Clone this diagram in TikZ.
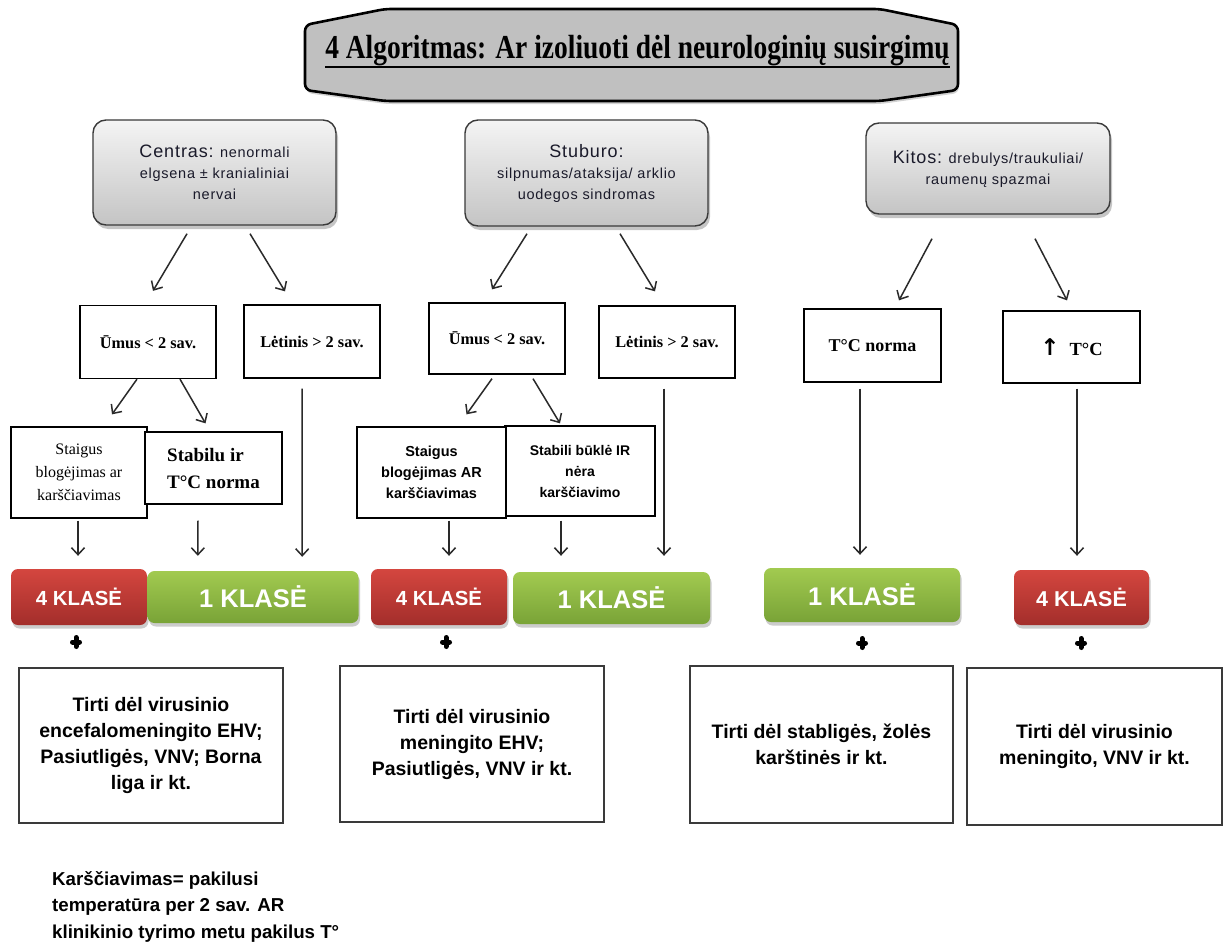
\documentclass[tikz,border=0pt]{standalone}
\usepackage{fontspec}
\setmainfont{Liberation Serif}
\setsansfont{Liberation Sans}
\newfontfamily\titlefont[FakeStretch=0.82]{Liberation Serif}
\newfontfamily\boxfont[LetterSpace=5]{Liberation Sans}
\newfontfamily\arrowfont{DejaVu Sans}
\usetikzlibrary{arrows.meta,shadows,calc}
\definecolor{titlegray}{HTML}{C0C0C0}
\definecolor{gtop}{HTML}{F4F4F4}
\definecolor{gbot}{HTML}{C4C4C4}
\definecolor{boxline}{HTML}{3A3A3A}
\definecolor{textdark}{HTML}{1A1A2A}
\definecolor{rtop}{HTML}{D4463F}
\definecolor{rbot}{HTML}{A32E2B}
\definecolor{gntop}{HTML}{A2CA50}
\definecolor{gnbot}{HTML}{79A337}
\definecolor{arrcol}{HTML}{2A2A2A}
\tikzset{
  gbox/.style={draw=boxline, line width=1.4pt, rounded corners=13pt, top color=gtop, bottom color=gbot,
    align=center, inner sep=0pt, text=textdark,
    drop shadow={shadow xshift=2pt, shadow yshift=-4pt, opacity=0.45},
    font=\boxfont\fontsize{14.5}{21}\selectfont},
  wbox/.style={draw=black, line width=1.3pt, fill=white, align=center, inner sep=0pt},
  lvltwo/.style={wbox, font=\bfseries\fontsize{16.3}{20}\selectfont},
  badge/.style={rounded corners=7pt, text=white, inner sep=0pt,
    drop shadow={shadow xshift=1.5pt, shadow yshift=-3.5pt, opacity=0.4}},
  redbadge/.style={badge, top color=rtop, bottom color=rbot, font=\sffamily\bfseries\fontsize{20.4}{20}\selectfont},
  greenbadge/.style={badge, top color=gntop, bottom color=gnbot, font=\sffamily\bfseries\fontsize{25.5}{25}\selectfont},
  rbox/.style={draw=boxline, line width=1.6pt, fill=white, align=center, inner sep=0pt,
    font=\sffamily\bfseries\fontsize{19.5}{26}\selectfont},
  arr/.style={draw=arrcol, line width=1.5pt, -{Straight Barb[length=7pt,width=13pt]}},
  plusmark/.style={line width=5pt, line cap=round, draw=black},
}
\begin{document}
\begin{tikzpicture}[x=1pt,y=-1pt]
\useasboundingbox (0,0) rectangle (1228,942);
\fill[white] (0,0) rectangle (1228,942);

% title
\draw[fill=titlegray, line width=2.6pt, rounded corners=6pt,
  drop shadow={shadow xshift=1pt, shadow yshift=-3pt, opacity=0.35}]
  (305,25) -- (385,9) -- (880,9) -- (958,25) -- (958,90) -- (880,101) -- (385,101) -- (305,90) -- cycle;
\node[inner sep=0pt, anchor=base, font=\titlefont\bfseries\fontsize{33.5}{34}\selectfont] (title) at (637.5,59)
  {4 Algoritmas: Ar izoliuoti dėl neurologinių susirgimų};
\draw[line width=2.2pt] ([yshift=-8pt]title.base west) -- ([yshift=-8pt]title.base east);

% top gray boxes
\node[gbox, minimum width=243pt, minimum height=105pt] (c1) at (214.5,172.5)
  {{\fontsize{18}{21}\selectfont Centras:} nenormali\\elgsena ± kranialiniai\\nervai};
\node[gbox, minimum width=243pt, minimum height=106pt] (s1) at (586.5,173)
  {{\fontsize{18}{21}\selectfont Stuburo:}\\silpnumas/ataksija/ arklio\\uodegos sindromas};
\node[gbox, minimum width=244pt, minimum height=91pt] (k1) at (988,168.5)
  {{\fontsize{18}{21}\selectfont Kitos:} drebulys/traukuliai/\\raumenų spazmai};

% level 2
\node[lvltwo, minimum width=136pt, minimum height=73pt] (u1) at (148,342) {Ūmus < 2 sav.};
\node[lvltwo, minimum width=136pt, minimum height=73pt] (l1) at (312,341.5) {Lėtinis > 2 sav.};
\node[lvltwo, minimum width=136pt, minimum height=71pt] (u2) at (497,338.5) {Ūmus < 2 sav.};
\node[lvltwo, minimum width=136pt, minimum height=72pt] (l2) at (667,342) {Lėtinis > 2 sav.};
\node[wbox, minimum width=137pt, minimum height=73pt, font=\bfseries\fontsize{18}{20}\selectfont] (t1) at (872.5,345.5) {T°C norma};
\node[wbox, minimum width=137pt, minimum height=72pt, font=\bfseries\fontsize{18.5}{20}\selectfont] (t2) at (1071.5,347)
  {{\arrowfont\bfseries\fontsize{23}{20}\selectfont ↑}\hspace{10pt}T°C};

% level 3
\node[wbox, minimum width=136pt, minimum height=91pt, font=\fontsize{16}{23}\selectfont] (st1) at (79,472.5)
  {Staigus\\blogėjimas ar\\karščiavimas};
\node[wbox, minimum width=137pt, minimum height=72pt, align=left, font=\bfseries\fontsize{19}{27}\selectfont] (sb1) at (213.5,468)
  {Stabilu ir\\T°C norma};
\node[wbox, minimum width=150pt, minimum height=90pt, font=\sffamily\bfseries\fontsize{14}{21}\selectfont] (sb2) at (580,471)
  {Stabili būklė IR\\nėra\\karščiavimo};
\node[wbox, minimum width=149pt, minimum height=91pt, font=\sffamily\bfseries\fontsize{14.5}{21}\selectfont] (st2) at (431.5,472.5)
  {Staigus\\blogėjimas AR\\karščiavimas};

% badges
\node[redbadge, minimum width=136pt, minimum height=56pt] (r1) at (79,597) {4 KLASĖ};
\node[greenbadge, minimum width=211pt, minimum height=52pt] (g1) at (253,597) {1 KLASĖ};
\node[redbadge, minimum width=136pt, minimum height=56pt] (r2) at (439,597) {4 KLASĖ};
\node[greenbadge, minimum width=197pt, minimum height=52pt] (g2) at (611.5,598) {1 KLASĖ};
\node[greenbadge, minimum width=196pt, minimum height=54pt] (g3) at (862,595) {1 KLASĖ};
\node[redbadge, minimum width=135pt, minimum height=55pt, font=\sffamily\bfseries\fontsize{21.5}{20}\selectfont] (r3) at (1081.5,597.5) {4 KLASĖ};

% plus signs
\foreach \px/\py in {76/642, 446/642, 862/643, 1081/643}{
  \draw[plusmark] (\px-3.5,\py) -- (\px+3.5,\py);
  \draw[plusmark] (\px,\py-4.5) -- (\px,\py+4.5);
}

% bottom boxes
\node[rbox, minimum width=264pt, minimum height=155pt] (b1) at (151,745.5)
  {Tirti dėl virusinio\\encefalomeningito EHV;\\Pasiutligės, VNV; Borna\\liga ir kt.};
\node[rbox, minimum width=264pt, minimum height=156pt] (b2) at (472,744)
  {Tirti dėl virusinio\\meningito EHV;\\Pasiutligės, VNV ir kt.};
\node[rbox, minimum width=263pt, minimum height=157pt] (b3) at (821.5,744.5)
  {Tirti dėl stabligės, žolės\\karštinės ir kt.};
\node[rbox, minimum width=255pt, minimum height=157pt] (b4) at (1094.5,746.5)
  {Tirti dėl virusinio\\meningito, VNV ir kt.};

% footnote
\node[anchor=north west, inner sep=0pt, align=left, font=\sffamily\bfseries\fontsize{18.7}{26.5}\selectfont] (note) at (52,871)
  {Karščiavimas= pakilusi\\temperatūra per 2 sav. AR\\klinikinio tyrimo metu pakilus T°};

% arrows from top boxes
\draw[arr] ($(c1.south)+(-27.5,8)$) -- ($(u1.north)+(5,-14)$);
\draw[arr] ($(c1.south)+(35.5,8)$) -- ($(l1.north)+(-27,-13)$);
\draw[arr] ($(s1.south)+(-59.5,7)$) -- ($(u2.north)+(-5,-13)$);
\draw[arr] ($(s1.south)+(33.5,7)$) -- ($(l2.north)+(-12,-14)$);
\draw[arr] ($(k1.south)+(-56,24)$) -- ($(t1.north)+(26.5,-8)$);
\draw[arr] ($(k1.south)+(47,24)$) -- ($(t2.north)+(-4.5,-10)$);

% arrows from Umus boxes
\draw[arr] ($(u1.south)+(-11,0)$) -- ($(st1.north)+(33,-12)$);
\draw[arr] ($(u1.south)+(32,0)$) -- ($(sb1.north)+(-8,-8)$);
\draw[arr] ($(u2.south)+(-5,4)$) -- ($(st2.north)+(35,-12)$);
\draw[arr] ($(u2.south)+(36,4)$) -- ($(sb2.north)+(-20,-2)$);

% vertical arrows to badges
\draw[arr] ($(st1.south)+(-1,2)$) -- ($(r1.north)+(-1,-13)$);
\draw[arr] ($(sb1.south)+(-15.5,16)$) -- ($(g1.north west)+(50.5,-15)$);
\draw[arr] ($(l1.south)+(-10,10)$) -- ($(g1.north east)+(-56.5,-14)$);
\draw[arr] ($(st2.south)+(17.5,2)$) -- ($(r2.north)+(10,-13)$);
\draw[arr] ($(sb2.south)+(-19,4)$) -- ($(g2.north)+(-50.5,-16)$);
\draw[arr] ($(l2.south)+(-3,10)$) -- ($(g2.north)+(52.5,-16)$);
\draw[arr] ($(t1.south)+(-12.5,6)$) -- ($(g3.north)+(-2,-13)$);
\draw[arr] ($(t2.south)+(5.5,5)$) -- ($(r3.north)+(-4.5,-14)$);
\end{tikzpicture}
\end{document}
